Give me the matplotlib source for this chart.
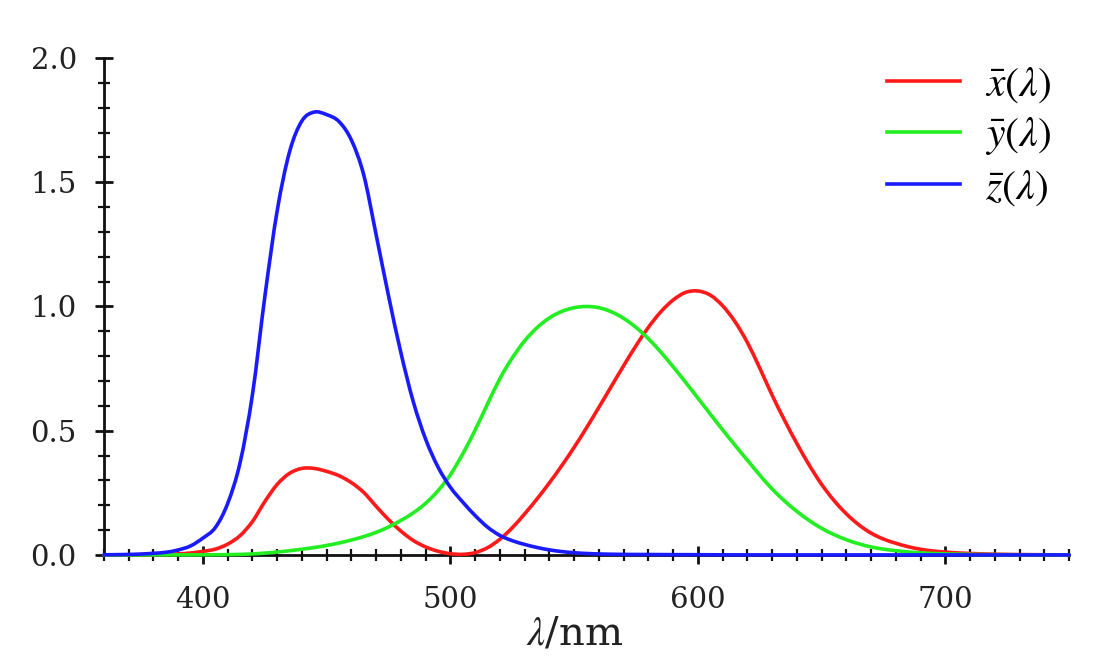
import numpy as np
import matplotlib.pyplot as plt
from matplotlib.ticker import MultipleLocator
from matplotlib.path import Path
from matplotlib.patches import PathPatch
from matplotlib.lines import Line2D

# CIE 1931 2-degree colour matching functions, 5 nm steps
wavelength = np.arange(360, 755, 5)

x_bar = [0.000130, 0.000232, 0.000415, 0.000742, 0.001368, 0.002236, 0.004243, 0.007650,
         0.014310, 0.023190, 0.043510, 0.077630, 0.134380, 0.214770, 0.283900, 0.328500,
         0.348280, 0.348060, 0.336200, 0.318700, 0.290800, 0.251100, 0.195360, 0.142100,
         0.095640, 0.057950, 0.032010, 0.014700, 0.004900, 0.002400, 0.009300, 0.029100,
         0.063270, 0.109600, 0.165500, 0.225750, 0.290400, 0.359700, 0.433450, 0.512050,
         0.594500, 0.678400, 0.762100, 0.842500, 0.916300, 0.978600, 1.026300, 1.056700,
         1.062200, 1.045600, 1.002600, 0.938400, 0.854450, 0.751400, 0.642400, 0.541900,
         0.447900, 0.360800, 0.283500, 0.218700, 0.164900, 0.121200, 0.087400, 0.063600,
         0.046770, 0.032900, 0.022700, 0.015840, 0.011359, 0.008111, 0.005790, 0.004109,
         0.002899, 0.002049, 0.001440, 0.001000, 0.000690, 0.000476, 0.000332]

y_bar = [0.000004, 0.000007, 0.000012, 0.000022, 0.000039, 0.000064, 0.000120, 0.000217,
         0.000396, 0.000640, 0.001210, 0.002180, 0.004000, 0.007300, 0.011600, 0.016840,
         0.023000, 0.029800, 0.038000, 0.048000, 0.060000, 0.073900, 0.090980, 0.112600,
         0.139020, 0.169300, 0.208020, 0.258600, 0.323000, 0.407300, 0.503000, 0.608200,
         0.710000, 0.793200, 0.862000, 0.914850, 0.954000, 0.980300, 0.994950, 1.000000,
         0.995000, 0.978600, 0.952000, 0.915400, 0.870000, 0.816300, 0.757000, 0.694900,
         0.631000, 0.566800, 0.503000, 0.441200, 0.381000, 0.321000, 0.265000, 0.217000,
         0.175000, 0.138200, 0.107000, 0.081600, 0.061000, 0.044580, 0.032000, 0.023200,
         0.017000, 0.011920, 0.008210, 0.005723, 0.004102, 0.002929, 0.002091, 0.001484,
         0.001047, 0.000740, 0.000520, 0.000361, 0.000249, 0.000172, 0.000120]

z_bar = [0.000606, 0.001086, 0.001946, 0.003486, 0.006450, 0.010550, 0.020050, 0.036210,
         0.067850, 0.110200, 0.207400, 0.371300, 0.645600, 1.039050, 1.385600, 1.622960,
         1.747060, 1.782600, 1.772110, 1.744100, 1.669200, 1.528100, 1.287640, 1.041900,
         0.812950, 0.616200, 0.465180, 0.353300, 0.272000, 0.212300, 0.158200, 0.111700,
         0.078250, 0.057250, 0.042160, 0.029840, 0.020300, 0.013400, 0.008750, 0.005750,
         0.003900, 0.002750, 0.002100, 0.001800, 0.001650, 0.001400, 0.001100, 0.001000,
         0.000800, 0.000600, 0.000340, 0.000240, 0.000190, 0.000100, 0.000050, 0.000030,
         0.000020, 0.000010, 0.0, 0.0, 0.0, 0.0, 0.0, 0.0,
         0.0, 0.0, 0.0, 0.0, 0.0, 0.0, 0.0, 0.0,
         0.0, 0.0, 0.0, 0.0, 0.0, 0.0, 0.0, 0.0]

labels = [r'$\bar{x}(\lambda)$', r'$\bar{y}(\lambda)$', r'$\bar{z}(\lambda)$']
colors = ['#ff1a1a', '#22ee22', '#1a1aff']


# smooth curve through the table points (Catmull-Rom as cubic Bezier segments)
def smooth_path(xs, ys):
    pts = np.column_stack([xs, np.asarray(ys, dtype=float)[:len(xs)]])
    verts = [pts[0]]
    codes = [Path.MOVETO]
    n = len(pts)
    for i in range(n - 1):
        p0 = pts[max(i - 1, 0)]
        p1 = pts[i]
        p2 = pts[i + 1]
        p3 = pts[min(i + 2, n - 1)]
        verts += [p1 + (p2 - p0) / 6, p2 - (p3 - p1) / 6, p2]
        codes += [Path.CURVE4] * 3
    return Path(verts, codes)


plt.rcParams['font.family'] = 'DejaVu Serif'
plt.rcParams['mathtext.fontset'] = 'stix'

fig = plt.figure(figsize=(11, 6.71), dpi=100)
ax = fig.add_axes([0.0945, 0.173, 0.8775, 0.7405])

handles = []
for vals, lab, col in zip([x_bar, y_bar, z_bar], labels, colors):
    patch = PathPatch(smooth_path(wavelength, vals), facecolor='none', edgecolor=col,
                      lw=2.6, zorder=5, clip_on=False, capstyle='round')
    ax.add_patch(patch)
    handles.append(Line2D([], [], color=col, lw=2.6, label=lab))

ax.set_xlim(360, 750)
ax.set_ylim(0, 2.0)

for side in ['top', 'right']:
    ax.spines[side].set_visible(False)
for side in ['left', 'bottom']:
    ax.spines[side].set_linewidth(2)
    ax.spines[side].set_color('#111111')

ax.xaxis.set_major_locator(MultipleLocator(100))
ax.xaxis.set_minor_locator(MultipleLocator(10))
ax.yaxis.set_minor_locator(MultipleLocator(0.1))
ax.set_yticks([0, 0.5, 1.0, 1.5, 2.0])
ax.set_yticklabels(['0.0', '0.5', '1.0', '1.5', '2.0'])

ax.tick_params(which='major', direction='inout', length=13, width=2, color='#111111',
               labelsize=21, labelcolor='#222222')
ax.tick_params(which='minor', direction='inout', length=8, width=1.6, color='#111111')
ax.tick_params(axis='x', which='major', pad=16)
ax.tick_params(axis='y', which='major', pad=13)

ax.set_xlabel(r'$\lambda$/nm', fontsize=29, color='#222222')
ax.xaxis.set_label_coords(0.488, -0.122)

ax.legend(handles=handles, loc='upper right', bbox_to_anchor=(1.02, 1.066), frameon=False,
          fontsize=30, handlelength=1.75, handletextpad=0.6, labelspacing=0.2)

fig.savefig('out.png', dpi=100)
